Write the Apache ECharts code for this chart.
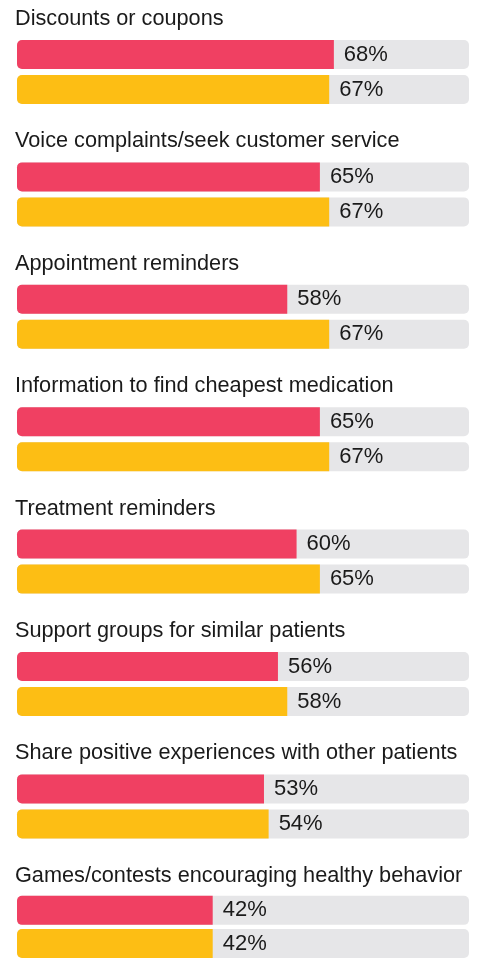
<!DOCTYPE html>
<html>
<head>
<meta charset="utf-8">
<script src="https://cdn.jsdelivr.net/npm/echarts@6/dist/echarts.min.js"></script>
<style>
  html, body { margin: 0; padding: 0; background: #fff; }
  #main { width: 477px; height: 960px; }
</style>
</head>
<body>
<div id="main"></div>
<script>
// categories, top to bottom
var categories = [
  'Discounts or coupons',
  'Voice complaints/seek customer service',
  'Appointment reminders',
  'Information to find cheapest medication',
  'Treatment reminders',
  'Support groups for similar patients',
  'Share positive experiences with other patients',
  'Games/contests encouraging healthy behavior'
];
var redValues = [68, 65, 58, 65, 60, 56, 53, 42];
var yellowValues = [67, 67, 67, 67, 65, 58, 54, 42];

var RED = '#F04062';
var YELLOW = '#FDBE14';
var TRACK = '#E6E6E8';
var FONT = 'Liberation Sans, Arial, Helvetica, sans-serif';
var STEP = 122.4;

var chart = echarts.init(document.getElementById('main'));

var titles = [], grids = [], xAxes = [], yAxes = [], series = [];
categories.forEach(function (name, i) {
  titles.push({
    text: name,
    left: 15,
    top: 8 + STEP * i,
    padding: 0,
    textStyle: { fontSize: 21.7, fontWeight: 'normal', color: '#1a1a1a', fontFamily: FONT }
  });
  grids.push({ left: 17, right: 8, top: 37 + STEP * i, height: 70 });
  xAxes.push({ gridIndex: i, type: 'value', min: 0, max: 97, show: false });
  yAxes.push({ gridIndex: i, type: 'category', data: ['a', 'b'], inverse: true, show: false });
  series.push({
    type: 'bar',
    xAxisIndex: i,
    yAxisIndex: i,
    barWidth: 29,
    showBackground: true,
    backgroundStyle: { color: TRACK, borderRadius: 5 },
    label: {
      show: true,
      position: 'right',
      distance: 10,
      formatter: '{c}%',
      fontSize: 22,
      color: '#1a1a1a',
      fontFamily: FONT
    },
    data: [
      { value: redValues[i], itemStyle: { color: RED, borderRadius: [5, 0, 0, 5] } },
      { value: yellowValues[i], itemStyle: { color: YELLOW, borderRadius: [5, 0, 0, 5] } }
    ]
  });
});

chart.setOption({
  animation: false,
  title: titles,
  grid: grids,
  xAxis: xAxes,
  yAxis: yAxes,
  series: series
});
</script>
</body>
</html>
